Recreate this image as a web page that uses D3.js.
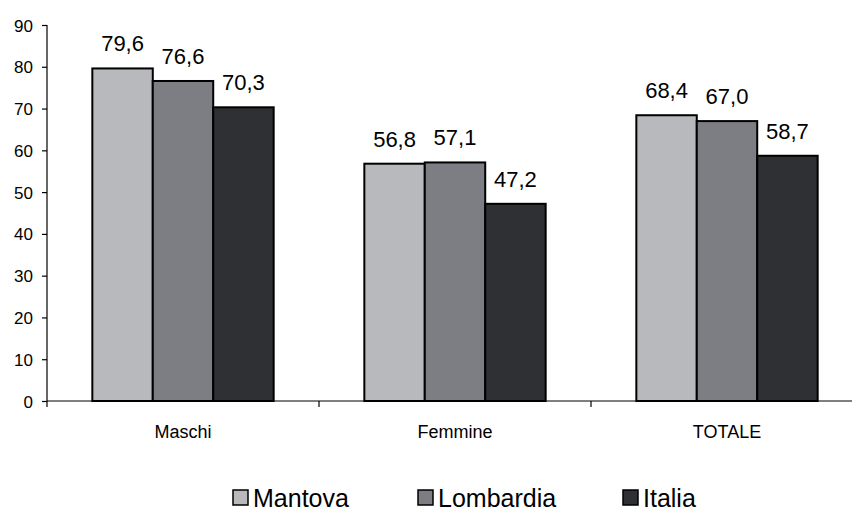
<!DOCTYPE html>
<html>
<head>
<meta charset="utf-8">
<script src="https://cdn.jsdelivr.net/npm/d3@7/dist/d3.min.js"></script>
<style>
  html, body { margin: 0; padding: 0; background: #fff; }
  svg { display: block; }
  text { font-family: "Liberation Sans", Arial, sans-serif; fill: #000; }
</style>
</head>
<body>
<svg id="chart" width="852" height="511"></svg>
<script>
// Tasso di occupazione per genere
const categories = ["Maschi", "Femmine", "TOTALE"];
const seriesNames = ["Mantova", "Lombardia", "Italia"];
const mantova   = [79.6, 56.8, 68.4];
const lombardia = [76.6, 57.1, 67.0];
const italia    = [70.3, 47.2, 58.7];
const yTicks = [0, 10, 20, 30, 40, 50, 60, 70, 80, 90];
const seriesColors = ["#b8b9bd", "#7d7e83", "#2f3033"];

const seriesValues = [mantova, lombardia, italia];
const rows = categories.map((c, i) => ({
  category: c,
  values: seriesNames.map((s, j) => ({ series: s, value: seriesValues[j][i], color: seriesColors[j] }))
}));

const svg = d3.select("#chart");
const plot = { left: 47, right: 863, top: 25, bottom: 401 };

const x0 = d3.scaleBand().domain(categories).range([plot.left, plot.right]).padding(0);
const bw = x0.bandwidth();
const gap = bw / 3;
const x1 = d3.scaleBand().domain(seriesNames).range([gap / 2, bw - gap / 2]).padding(0);
const y = d3.scaleLinear().domain([0, 90]).range([plot.bottom, plot.top]);

function label(g, x, yPos, str, size, anchor, sx) {
  return g.append("text")
    .attr("transform", `translate(${x},${yPos}) scale(${sx || 1},1)`)
    .attr("text-anchor", anchor || "middle")
    .style("font-size", size + "px")
    .text(str);
}

// Bars
const groups = svg.append("g").selectAll("g")
  .data(rows).join("g")
  .attr("transform", d => `translate(${x0(d.category)},0)`);

groups.selectAll("rect")
  .data(d => d.values).join("rect")
  .attr("x", d => x1(d.series))
  .attr("y", d => y(d.value))
  .attr("width", x1.bandwidth())
  .attr("height", d => y(0) - y(d.value))
  .attr("fill", d => d.color)
  .attr("stroke", "#000")
  .attr("stroke-width", 2);

// Value labels
groups.each(function (d) {
  const g = d3.select(this);
  d.values.forEach(v => {
    label(g, x1(v.series) + x1.bandwidth() / 2, y(v.value) - 17,
      d3.format(".1f")(v.value).replace(".", ","), 22);
  });
});

// Y axis
const yAxis = d3.axisLeft(y).tickValues(yTicks).tickSize(5).tickPadding(9).tickFormat(d3.format("d"));
const yg = svg.append("g").attr("transform", `translate(${plot.left},0)`).call(yAxis);
yg.select(".domain").attr("stroke", "#000").attr("stroke-width", 1.2).attr("d", `M0,${plot.top}V${plot.bottom}`);
yg.selectAll(".tick line").attr("stroke", "#000").attr("stroke-width", 1.2);
yg.selectAll(".tick text").remove();
yg.selectAll(".tick").each(function (d) {
  label(d3.select(this), -14, 6, d3.format("d")(d), 17, "end");
});

// X axis with boundary ticks between categories
const boundaries = categories.map(c => x0(c));
const xg = svg.append("g");
xg.append("line")
  .attr("x1", plot.left).attr("x2", 852)
  .attr("y1", y(0)).attr("y2", y(0))
  .attr("stroke", "#000").attr("stroke-width", 1.2);
xg.selectAll("line.tick").data(boundaries).join("line")
  .attr("class", "tick")
  .attr("x1", d => d).attr("x2", d => d)
  .attr("y1", y(0)).attr("y2", y(0) + 6)
  .attr("stroke", "#000").attr("stroke-width", 1.2);
categories.forEach(c => {
  label(xg, x0(c) + bw / 2, 438, c, 18);
});

// Legend
const legendItems = [
  { name: seriesNames[0], x: 233 },
  { name: seriesNames[1], x: 418 },
  { name: seriesNames[2], x: 623 }
];
const lg = svg.append("g");
legendItems.forEach((item, i) => {
  lg.append("rect")
    .attr("x", item.x).attr("y", 490)
    .attr("width", 15).attr("height", 15)
    .attr("fill", seriesColors[i])
    .attr("stroke", "#000").attr("stroke-width", 1.5);
  label(lg, item.x + 20, 507, item.name, 25, "start");
});
</script>
</body>
</html>
